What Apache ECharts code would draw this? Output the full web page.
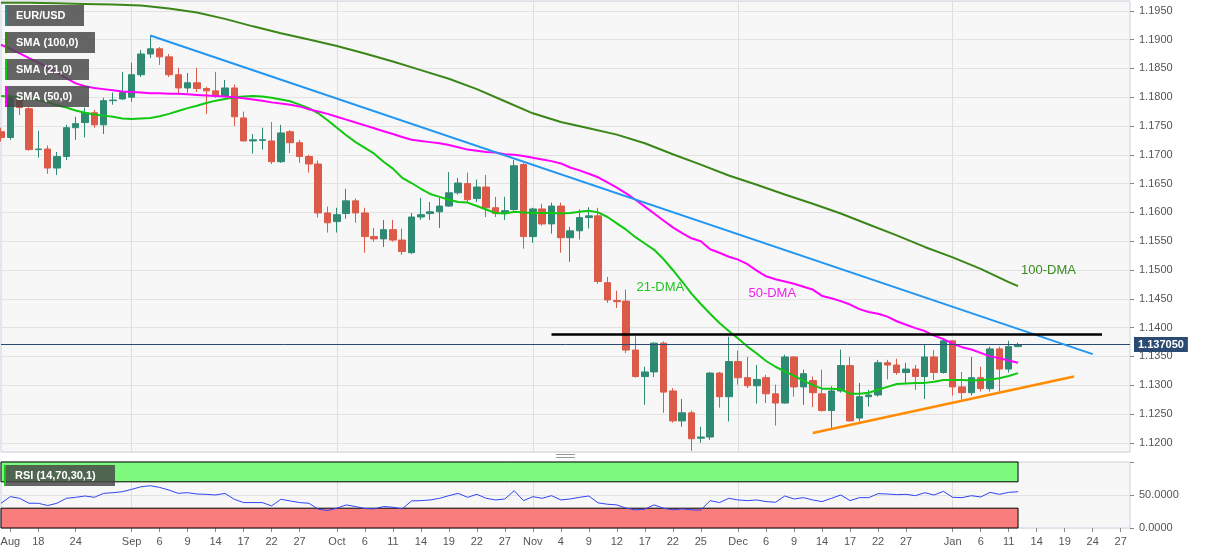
<!DOCTYPE html>
<html><head><meta charset="utf-8">
<script src="https://cdn.jsdelivr.net/npm/echarts@6/dist/echarts.min.js"></script>
<style>html,body{margin:0;padding:0;background:#fff}#c{width:1207px;height:555px}</style>
</head><body><div id="c"></div>
<script>
const dates = [
'2021-08-12','2021-08-13','2021-08-16','2021-08-17','2021-08-18','2021-08-19','2021-08-20','2021-08-23','2021-08-24','2021-08-25','2021-08-26','2021-08-27','2021-08-30','2021-08-31',
'2021-09-01','2021-09-02','2021-09-03','2021-09-06','2021-09-07','2021-09-08','2021-09-09','2021-09-10','2021-09-13','2021-09-14','2021-09-15','2021-09-16','2021-09-17','2021-09-20','2021-09-21','2021-09-22','2021-09-23','2021-09-24','2021-09-27','2021-09-28','2021-09-29','2021-09-30',
'2021-10-01','2021-10-04','2021-10-05','2021-10-06','2021-10-07','2021-10-08','2021-10-11','2021-10-12','2021-10-13','2021-10-14','2021-10-15','2021-10-18','2021-10-19','2021-10-20','2021-10-21','2021-10-22','2021-10-25','2021-10-26','2021-10-27','2021-10-28','2021-10-29',
'2021-11-01','2021-11-02','2021-11-03','2021-11-04','2021-11-05','2021-11-08','2021-11-09','2021-11-10','2021-11-11','2021-11-12','2021-11-15','2021-11-16','2021-11-17','2021-11-18','2021-11-19','2021-11-22','2021-11-23','2021-11-24','2021-11-25','2021-11-26','2021-11-29','2021-11-30',
'2021-12-01','2021-12-02','2021-12-03','2021-12-06','2021-12-07','2021-12-08','2021-12-09','2021-12-10','2021-12-13','2021-12-14','2021-12-15','2021-12-16','2021-12-17','2021-12-20','2021-12-21','2021-12-22','2021-12-23','2021-12-24','2021-12-27','2021-12-28','2021-12-29','2021-12-30','2021-12-31',
'2022-01-03','2022-01-04','2022-01-05','2022-01-06','2022-01-07','2022-01-10','2022-01-11','2022-01-12','2022-01-13','2022-01-14','2022-01-17','2022-01-18','2022-01-19','2022-01-20','2022-01-21','2022-01-24','2022-01-25','2022-01-26','2022-01-27','2022-01-28'];

const opens = [1.1740,1.1730,1.1796,1.1780,1.1709,1.1710,1.1677,1.1697,1.1747,1.1756,
1.1773,1.1752,1.1794,1.1797,1.1800,1.1839,1.1875,1.1884,1.1870,1.1839,
1.1816,1.1825,1.1815,1.1811,1.1802,1.1816,1.1764,1.1724,1.1725,1.1724,
1.1688,1.1740,1.1721,1.1697,1.1684,1.1599,1.1584,1.1598,1.1620,1.1599,
1.1558,1.1554,1.1570,1.1552,1.1530,1.1592,1.1598,1.1601,1.1611,1.1634,
1.1650,1.1624,1.1644,1.1608,1.1598,1.1605,1.1683,1.1558,1.1606,1.1580,
1.1611,1.1556,1.1568,1.1591,1.1594,1.1478,1.1447,1.1446,1.1361,1.1315,
1.1323,1.1373,1.1290,1.1238,1.1252,1.1208,1.1210,1.1321,1.1280,1.1341,
1.1313,1.1299,1.1313,1.1285,1.1269,1.1349,1.1297,1.1308,1.1285,1.1256,
1.1290,1.1334,1.1243,1.1280,1.1283,1.1339,1.1335,1.1322,1.1328,1.1315,
1.1349,1.1322,1.1377,1.1297,1.1287,1.1313,1.1294,1.1363,1.1328,1.1367];
const highs = [1.1747,1.1805,1.1799,1.1783,1.1742,1.1716,1.1705,1.1752,1.1766,1.1782,
1.1778,1.1799,1.1808,1.1844,1.1860,1.1882,1.1907,1.1887,1.1875,1.1851,
1.1842,1.1851,1.1818,1.1844,1.1830,1.1822,1.1775,1.1736,1.1747,1.1757,
1.1752,1.1743,1.1726,1.1700,1.1690,1.1610,1.1608,1.1641,1.1624,1.1608,
1.1573,1.1587,1.1587,1.1572,1.1599,1.1625,1.1618,1.1625,1.1670,1.1660,
1.1669,1.1657,1.1665,1.1627,1.1627,1.1691,1.1686,1.1608,1.1615,1.1617,
1.1617,1.1575,1.1605,1.1609,1.1608,1.1488,1.1464,1.1466,1.1385,1.1332,
1.1374,1.1376,1.1295,1.1276,1.1256,1.1228,1.1323,1.1323,1.1384,1.1360,
1.1349,1.1335,1.1318,1.1301,1.1353,1.1350,1.1327,1.1315,1.1327,1.1298,
1.1362,1.1349,1.1304,1.1292,1.1344,1.1344,1.1346,1.1339,1.1335,1.1370,
1.1361,1.1381,1.1377,1.1323,1.1349,1.1332,1.1367,1.1367,1.1377,1.1374];
const lows = [1.1723,1.1726,1.1769,1.1707,1.1695,1.1667,1.1665,1.1691,1.1726,1.1730,
1.1747,1.1736,1.1787,1.1795,1.1792,1.1835,1.1868,1.1856,1.1835,1.1804,
1.1808,1.1809,1.1771,1.1799,1.1801,1.1750,1.1723,1.1702,1.1709,1.1684,
1.1686,1.1703,1.1686,1.1669,1.1591,1.1565,1.1565,1.1589,1.1582,1.1530,
1.1549,1.1540,1.1549,1.1526,1.1528,1.1587,1.1587,1.1573,1.1610,1.1631,
1.1617,1.1618,1.1592,1.1592,1.1587,1.1603,1.1537,1.1547,1.1577,1.1563,
1.1530,1.1514,1.1553,1.1572,1.1476,1.1443,1.1434,1.1356,1.1313,1.1266,
1.1314,1.1252,1.1235,1.1228,1.1186,1.1200,1.1205,1.1261,1.1237,1.1301,
1.1295,1.1268,1.1269,1.1230,1.1268,1.1280,1.1266,1.1262,1.1254,1.1224,
1.1287,1.1237,1.1237,1.1263,1.1280,1.1310,1.1318,1.1304,1.1292,1.1276,
1.1309,1.1320,1.1282,1.1275,1.1282,1.1289,1.1289,1.1289,1.1322,1.1366];
const closes = [1.1730,1.1799,1.1782,1.1709,1.1710,1.1677,1.1697,1.1747,1.1754,1.1773,
1.1752,1.1794,1.1795,1.1808,1.1839,1.1875,1.1884,1.1870,1.1839,1.1816,
1.1825,1.1815,1.1811,1.1802,1.1816,1.1766,1.1724,1.1726,1.1726,1.1688,
1.1738,1.1721,1.1697,1.1684,1.1599,1.1582,1.1596,1.1620,1.1599,1.1558,
1.1554,1.1570,1.1552,1.1532,1.1592,1.1596,1.1601,1.1611,1.1634,1.1651,
1.1622,1.1644,1.1608,1.1598,1.1603,1.1681,1.1558,1.1606,1.1580,1.1611,
1.1556,1.1568,1.1591,1.1594,1.1480,1.1448,1.1445,1.1361,1.1315,1.1323,
1.1373,1.1288,1.1238,1.1252,1.1207,1.1210,1.1321,1.1280,1.1341,1.1313,
1.1299,1.1310,1.1285,1.1269,1.1349,1.1297,1.1320,1.1287,1.1256,1.1290,
1.1334,1.1238,1.1280,1.1283,1.1339,1.1335,1.1322,1.1328,1.1315,1.1349,
1.1322,1.1377,1.1297,1.1287,1.1313,1.1294,1.1363,1.1328,1.1367,1.13705];

const sma21 = [1.1802,1.1801,1.1800,1.1798,1.1795,1.1791,1.1786,1.1782,1.1777,1.1773,
1.1770,1.1768,1.1766,1.1763,1.1762,1.1763,1.1764,1.1767,1.1771,1.1776,
1.1781,1.1785,1.1790,1.1794,1.1797,1.1800,1.1801,1.1802,1.1801,1.1799,
1.1796,1.1793,1.1787,1.1781,1.1772,1.1760,1.1747,1.1734,1.1722,1.1712,
1.1702,1.1688,1.1676,1.1660,1.1651,1.1641,1.1632,1.1627,1.1622,1.1618,
1.1617,1.1611,1.1605,1.1599,1.1598,1.1601,1.1600,1.1599,1.1599,1.1599,
1.1598,1.1599,1.1601,1.1603,1.1600,1.1592,1.1581,1.1570,1.1557,1.1546,
1.1535,1.1519,1.1500,1.1480,1.1459,1.1441,1.1424,1.1408,1.1394,1.1381,
1.1367,1.1355,1.1342,1.1332,1.1324,1.1316,1.1308,1.1300,1.1294,1.1294,
1.1293,1.1285,1.1285,1.1287,1.1292,1.1297,1.1302,1.1303,1.1304,1.1304,
1.1306,1.1309,1.1309,1.1309,1.1308,1.1309,1.1310,1.1312,1.1316,1.1321];

const sma50 = [1.1891,1.1884,1.1876,1.1868,1.1860,1.1851,1.1843,1.1833,1.1824,1.1819,
1.1816,1.1814,1.1812,1.1810,1.1809,1.1808,1.1807,1.1807,1.1806,1.1806,
1.1805,1.1804,1.1803,1.1802,1.1801,1.1800,1.1798,1.1796,1.1794,1.1791,
1.1789,1.1787,1.1784,1.1779,1.1775,1.1771,1.1766,1.1761,1.1756,1.1751,
1.1746,1.1741,1.1736,1.1731,1.1726,1.1724,1.1722,1.1720,1.1717,1.1713,
1.1709,1.1707,1.1705,1.1704,1.1701,1.1700,1.1698,1.1695,1.1692,1.1689,
1.1685,1.1678,1.1673,1.1667,1.1661,1.1652,1.1643,1.1633,1.1622,1.1610,
1.1598,1.1586,1.1574,1.1564,1.1555,1.1550,1.1536,1.1530,1.1523,1.1518,
1.1510,1.1499,1.1489,1.1484,1.1480,1.1476,1.1471,1.1466,1.1455,1.1451,
1.1446,1.1440,1.1432,1.1427,1.1424,1.1419,1.1411,1.1405,1.1399,1.1394,
1.1386,1.1380,1.1372,1.1366,1.1362,1.1356,1.1350,1.1347,1.1343,1.1339];

const sma100 = [['2021-08-12',1.1964],['2021-08-17',1.1964],['2021-08-20',1.1963],['2021-08-25',1.1962],['2021-08-30',1.1961],
['2021-09-02',1.1959],['2021-09-07',1.1954],['2021-09-10',1.1947],['2021-09-15',1.1936],['2021-09-20',1.1923],['2021-09-23',1.1911],
['2021-09-28',1.1900],['2021-10-01',1.1889],['2021-10-06',1.1876],['2021-10-11',1.1862],['2021-10-14',1.1847],['2021-10-19',1.1832],
['2021-10-22',1.1814],['2021-10-27',1.1793],['2021-11-01',1.1772],['2021-11-04',1.1757],['2021-11-09',1.1746],['2021-11-12',1.1735],
['2021-11-17',1.1720],['2021-11-22',1.1701],['2021-11-25',1.1683],['2021-11-30',1.1664],['2021-12-03',1.1648],['2021-12-08',1.1631],
['2021-12-13',1.1615],['2021-12-16',1.1598],['2021-12-21',1.1579],['2021-12-24',1.1560],['2021-12-29',1.1540],['2022-01-03',1.1522],
['2022-01-06',1.1502],['2022-01-11',1.1479],['2022-01-12',1.1472]];

const rsi = [37.5,47.5,45,37.5,37.5,34,37.5,45,46.5,48.5,
46.5,52.5,53.5,55,58.5,62.5,64,61.5,57.5,52.5,
53.5,51.5,51,50,52.5,43.5,38.5,38.5,38.5,33.5,
43.5,41,38.5,37.5,28.5,26.5,30,35,32.5,29.5,
29,32.5,31.5,29,41,41.5,42.5,45,49,52.5,
46.5,51,45,42.5,44,56.5,41.5,47.5,45,49,
42.5,44,46.5,48.5,38,36,35,30,27.5,28.5,
35,30,27.5,29,27.5,27,41.5,38.5,45,42.5,
41.5,42.5,40,39,48.5,44,46,42.5,40,45,
50,41.5,46,46,52,51.5,50.5,51,49,53.5,
50,55.5,46.5,46,49,47,54,51,54,55];

const tickDates = ['2021-08-13','2021-08-18','2021-08-24','2021-09-01','2021-09-06','2021-09-09','2021-09-14','2021-09-17','2021-09-22','2021-09-27',
'2021-10-01','2021-10-06','2021-10-11','2021-10-14','2021-10-19','2021-10-22','2021-10-27','2021-11-01','2021-11-04','2021-11-09','2021-11-12',
'2021-11-17','2021-11-22','2021-11-25','2021-12-01','2021-12-06','2021-12-09','2021-12-14','2021-12-17','2021-12-22','2021-12-27',
'2022-01-03','2022-01-06','2022-01-11','2022-01-14','2022-01-19','2022-01-24','2022-01-27'];
const tickTexts = ['Aug','18','24','Sep','6','9','14','17','22','27','Oct','6','11','14','19','22','27','Nov','4','9','12',
'17','22','25','Dec','6','9','14','17','22','27','Jan','6','11','14','19','24','27'];
const monthStarts = ['2021-09-01','2021-10-01','2021-11-01','2021-12-01','2022-01-03'];

const lastPrice = 1.13705;
const resistance = [['2021-11-03',1.1389],['2022-01-25',1.1389]];
const downTrend = [['2021-09-03',1.1907],['2022-01-24',1.1354]];
const upTrend = [['2021-12-13',1.1217],['2022-01-20',1.1315]];

const UP = '#2f8a74', DOWN = '#dc5a48';
const FONT = '"Liberation Sans", Arial, sans-serif';
const candles = opens.map((o, i) => [o, closes[i], lows[i], highs[i]]);
const tickMap = {}; tickDates.forEach((d, i) => tickMap[d] = tickTexts[i]);
const isTick = (idx, v) => tickMap[v] !== undefined;
const isMonth = (idx, v) => monthStarts.indexOf(v) >= 0;

const chart = echarts.init(document.getElementById('c'), null, {renderer: 'canvas'});

function legendBox(x, y, w, label, bar) {
  return [
    {type: 'rect', x: x, y: y, shape: {width: w, height: 21}, style: {fill: 'rgba(72,72,72,0.84)'}, z: 100},
    {type: 'rect', x: x, y: y, shape: {width: 2, height: 21}, style: {fill: bar}, z: 101},
    {type: 'text', x: x + 11, y: y + 11, style: {text: label, fill: '#fff', font: 'bold 11px ' + FONT, verticalAlign: 'middle', textVerticalAlign: 'middle'}, z: 101}
  ];
}

const option = {
  animation: false,
  backgroundColor: '#ffffff',
  textStyle: {fontFamily: FONT},
  grid: [
    {left: 1, right: 77, top: 1, height: 451, show: true, backgroundColor: '#f7f7f7', borderColor: '#c9d1e2', borderWidth: 1, outerBoundsMode: 'none', containLabel: false},
    {left: 1, right: 77, top: 462, height: 66, show: true, backgroundColor: '#f7f7f7', borderColor: '#c9d1e2', borderWidth: 1, outerBoundsMode: 'none', containLabel: false}
  ],
  xAxis: [
    {type: 'category', gridIndex: 0, data: dates, boundaryGap: false,
     axisLine: {show: false}, axisTick: {show: false}, axisLabel: {show: false},
     splitLine: {show: true, interval: isMonth, lineStyle: {color: '#dedede', width: 1}}},
    {type: 'category', gridIndex: 1, data: dates, boundaryGap: false,
     axisLine: {show: false},
     axisTick: {show: true, interval: isTick, length: 4, lineStyle: {color: '#888'}},
     axisLabel: {show: true, interval: isTick, formatter: v => tickMap[v] || '', color: '#555', fontSize: 11, margin: 8, fontFamily: FONT, hideOverlap: false},
     splitLine: {show: true, interval: isMonth, lineStyle: {color: '#dedede', width: 1}}}
  ],
  yAxis: [
    {type: 'value', gridIndex: 0, position: 'right', min: 1.1184, max: 1.1967, minInterval: 0.005, maxInterval: 0.005, scale: true,
     axisLine: {show: false}, axisTick: {show: true, length: 4, lineStyle: {color: '#888'}},
     axisLabel: {color: '#555', fontSize: 11, margin: 9, fontFamily: FONT, showMinLabel: false, showMaxLabel: false, formatter: v => v.toFixed(4)},
     splitLine: {show: true, lineStyle: {color: '#e2e2e2', width: 1}}},
    {type: 'value', gridIndex: 1, position: 'right', min: 0, max: 100, interval: 50,
     axisLine: {show: false}, axisTick: {show: true, length: 4, lineStyle: {color: '#888'}},
     axisLabel: {color: '#555', fontSize: 11, margin: 9, fontFamily: FONT, formatter: v => v >= 100 ? '' : v.toFixed(4)},
     splitLine: {show: true, lineStyle: {color: '#e2e2e2', width: 1}}}
  ],
  series: [
    {type: 'candlestick', name: 'EUR/USD', xAxisIndex: 0, yAxisIndex: 0, data: candles, barWidth: 7, z: 3,
     itemStyle: {color: UP, color0: DOWN, borderColor: UP, borderColor0: DOWN, borderColorDoji: UP, borderWidth: 1},
     markLine: {silent: true, symbol: ['none', 'none'], animation: false,
       data: [
         [{coord: [dates[0], lastPrice], lineStyle: {color: '#2b4a72', width: 1, type: 'solid'},
           label: {show: true, position: 'end', distance: 4, formatter: lastPrice.toFixed(6), color: '#fff', fontWeight: 'bold', fontSize: 11, fontFamily: FONT,
                   backgroundColor: '#2b4a72', padding: [2, 4, 2, 4]}},
          {coord: [dates[dates.length - 1], lastPrice]}],
         [{coord: downTrend[0], lineStyle: {color: '#2196f3', width: 2, type: 'solid'}, label: {show: false}}, {coord: downTrend[1]}],
         [{coord: resistance[0], lineStyle: {color: '#000000', width: 2.5, type: 'solid'}, label: {show: false}}, {coord: resistance[1]}],
         [{coord: upTrend[0], lineStyle: {color: '#ff8c00', width: 2.5, type: 'solid'}, label: {show: false}}, {coord: upTrend[1]}]
       ]}},
    {type: 'line', name: 'SMA (100,0)', xAxisIndex: 0, yAxisIndex: 0, data: sma100, showSymbol: false, z: 4,
     lineStyle: {color: '#3b8618', width: 2}, connectNulls: true,
     markPoint: {silent: true, animation: false, data: [{coord: ['2022-01-12', 1.1500], symbol: 'circle', symbolSize: 0,
       label: {show: true, position: 'right', distance: 3, formatter: '100-DMA', color: '#3b8a22', fontSize: 13, fontFamily: FONT}}]}},
    {type: 'line', name: 'SMA (21,0)', xAxisIndex: 0, yAxisIndex: 0, data: sma21, showSymbol: false, z: 4,
     lineStyle: {color: '#10c810', width: 2},
     markPoint: {silent: true, animation: false, data: [{coord: ['2021-11-16', 1.1469], symbol: 'circle', symbolSize: 0,
       label: {show: true, position: 'right', distance: 1, formatter: '21-DMA', color: '#1ec41e', fontSize: 13, fontFamily: FONT}}]}},
    {type: 'line', name: 'SMA (50,0)', xAxisIndex: 0, yAxisIndex: 0, data: sma50, showSymbol: false, z: 4,
     lineStyle: {color: '#ff00ff', width: 2},
     markPoint: {silent: true, animation: false, data: [{coord: ['2021-12-02', 1.1460], symbol: 'circle', symbolSize: 0,
       label: {show: true, position: 'right', distance: 1, formatter: '50-DMA', color: '#f020f0', fontSize: 13, fontFamily: FONT}}]}},
    {type: 'line', name: 'RSI bands', xAxisIndex: 1, yAxisIndex: 1, data: rsi, showSymbol: false, z: 1,
     lineStyle: {opacity: 0},
     markArea: {silent: true, animation: false, itemStyle: {borderColor: '#000', borderWidth: 1, opacity: 1},
       data: [
         [{xAxis: dates[0], yAxis: 70, itemStyle: {color: '#7dfa7d', borderColor: '#000', borderWidth: 1}}, {xAxis: dates[rsi.length - 1], yAxis: 100}],
         [{xAxis: dates[0], yAxis: 0, itemStyle: {color: '#fa7d7d', borderColor: '#000', borderWidth: 1}}, {xAxis: dates[rsi.length - 1], yAxis: 30}]
       ]}},
    {type: 'line', name: 'RSI (14,70,30,1)', xAxisIndex: 1, yAxisIndex: 1, data: rsi, showSymbol: false, z: 5,
     lineStyle: {color: '#2f45f5', width: 1}}
  ],
  graphic: [].concat(
    legendBox(5, 5, 79, 'EUR/USD', '#2f8a8a'),
    legendBox(5, 32, 90, 'SMA (100,0)', '#3b8618'),
    legendBox(5, 59, 84, 'SMA (21,0)', '#10c810'),
    legendBox(5, 86, 84, 'SMA (50,0)', '#ff00ff'),
    legendBox(4, 465, 111, 'RSI (14,70,30,1)', '#10c810'),
    [
      {type: 'line', shape: {x1: 556, y1: 454.5, x2: 575, y2: 454.5}, style: {stroke: '#999', lineWidth: 1}},
      {type: 'line', shape: {x1: 556, y1: 457.5, x2: 575, y2: 457.5}, style: {stroke: '#999', lineWidth: 1}}
    ]
  )
};
chart.setOption(option);
</script></body></html>
